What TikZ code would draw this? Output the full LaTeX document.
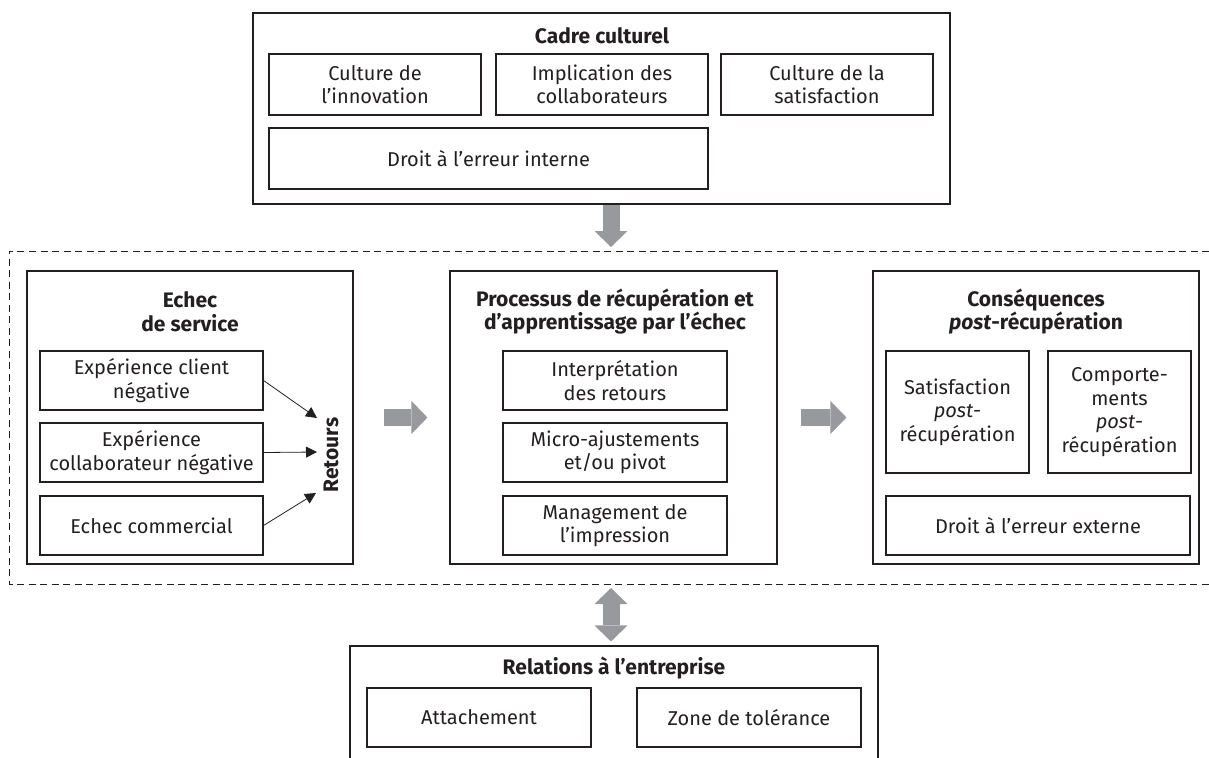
\documentclass[tikz,border=0pt]{standalone}
\usepackage{fontspec}
\setmainfont{Fira Sans}
\usetikzlibrary{arrows.meta,calc}
\definecolor{agray}{RGB}{152,153,156}
\definecolor{lcol}{RGB}{35,31,32}
\begin{document}
\begin{tikzpicture}[x=1pt,y=-1pt,
  box/.style={draw=lcol, line width=1.1pt, inner sep=0pt, align=center, text=lcol, font=\fontsize{20}{23.5}\selectfont},
  obox/.style={draw=lcol, line width=1.1pt, inner sep=0pt},
  ttl/.style={font=\fontsize{21}{23.5}\selectfont\bfseries, align=center, inner sep=0pt, text=lcol},
  big/.style={draw=agray, line width=17pt, -{Triangle[width=33pt,length=16pt,line width=0pt]}},
  bigd/.style={draw=agray, line width=17pt, {Triangle[width=33pt,length=16pt,line width=0pt]}-{Triangle[width=33pt,length=16pt,line width=0pt]}},
  sm/.style={draw=lcol, line width=0.8pt, -{Triangle[length=11pt,width=11pt]}}
]
\useasboundingbox (0,0) rectangle (1209,757);

% Cadre culturel
\node[obox, minimum width=697pt, minimum height=191pt] (cadre) at (601.5,108.5) {};
\node[ttl] (cadreT) at (602,36) {Cadre culturel};
\node[box, minimum width=212pt, minimum height=61pt] (c1) at (375,84.5) {Culture de\\l’innovation};
\node[box, minimum width=212pt, minimum height=61pt] (c2) at (602,84.5) {Implication des\\collaborateurs};
\node[box, minimum width=212pt, minimum height=61pt] (c3) at (827,84.5) {Culture de la\\satisfaction};
\node[box, minimum width=439pt, minimum height=61pt] (c4) at (488.5,158.5) {Droit à l’erreur interne};

% dashed zone
\draw[lcol, line width=0.9pt, dash pattern=on 7pt off 4.5pt] (1209,251) -- (9,251) -- (9,584) -- (1209,584);
\coordinate (dtop) at (611,251);
\coordinate (dbot) at (611,584);

% Echec de service
\node[obox, minimum width=326pt, minimum height=293pt] (echec) at (190,417.5) {};
\node[ttl] (echecT) at (190,311.5) {Echec\\de service};
\node[box, minimum width=223pt, minimum height=59pt] (e1) at (151.5,380.5) {Expérience client\\négative};
\node[box, minimum width=223pt, minimum height=59pt] (e2) at (151.5,452.5) {Expérience\\collaborateur négative};
\node[box, minimum width=223pt, minimum height=59pt] (e3) at (151.5,525.5) {Echec commercial};
\node[ttl, rotate=90] (ret) at (331,455) {Retours};
\coordinate (r1) at (317,418);
\coordinate (r2) at (317,452);
\coordinate (r3) at (316,493);
\draw[sm] (e1.east) -- (r1);
\draw[sm] (e2.east) -- (r2);
\draw[sm] (e3.east) -- (r3);

% Processus
\node[obox, minimum width=327pt, minimum height=293pt] (proc) at (613.5,417.5) {};
\node[ttl] (procT) at (615,311.5) {Processus de récupération et\\d’apprentissage par l’échec};
\node[box, minimum width=224pt, minimum height=59pt] (p1) at (615,380.5) {Interprétation\\des retours};
\node[box, minimum width=224pt, minimum height=59pt] (p2) at (615,452.5) {Micro-ajustements\\et/ou pivot};
\node[box, minimum width=224pt, minimum height=59pt] (p3) at (615,525.5) {Management de\\l’impression};

% Consequences
\node[obox, minimum width=326pt, minimum height=293pt] (cons) at (1036,417.5) {};
\node[ttl] (consT) at (1036,311.5) {Conséquences\\\textit{post}-récupération};
\node[box, minimum width=143pt, minimum height=122pt] (s1) at (957.5,412) {Satisfaction\\\textit{post}-\\récupération};
\node[box, minimum width=143pt, minimum height=122pt] (s2) at (1119.5,412) {Comporte-\\ments\\\textit{post}-\\récupération};
\node[box, minimum width=304pt, minimum height=59pt] (s3) at (1038,525.5) {Droit à l’erreur externe};

% Relations
\node[obox, minimum width=528pt, minimum height=114pt] (rel) at (614,703) {};
\node[ttl] (relT) at (614,668) {Relations à l’entreprise};
\node[box, minimum width=224pt, minimum height=59pt] (a1) at (479,717.5) {Attachement};
\node[box, minimum width=224pt, minimum height=59pt] (a2) at (749,717.5) {Zone de tolérance};

% gray arrows
\draw[big, shorten >=4pt] (dtop |- cadre.south) -- (dtop);
\draw[big, shorten <=30pt, shorten >=22pt] (echec.east) -- (proc.west);
\draw[big, shorten <=23pt, shorten >=26pt] (proc.east) -- (cons.west);
\draw[bigd, shorten <=4pt, shorten >=4pt] (dbot) -- (dbot |- rel.north);
\end{tikzpicture}
\end{document}
